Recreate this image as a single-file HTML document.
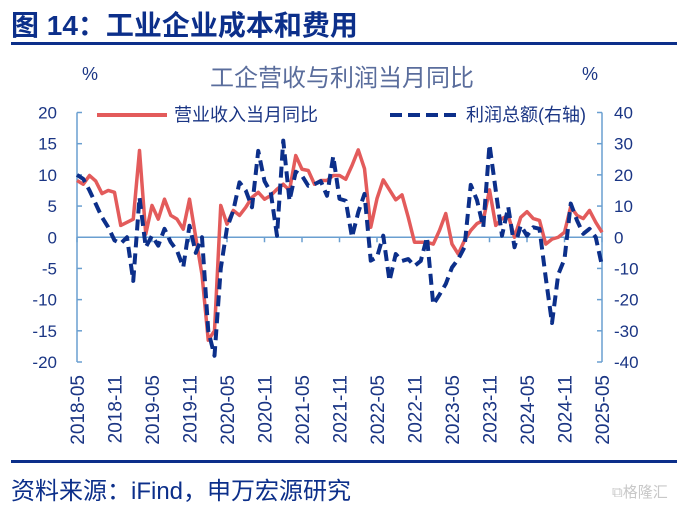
<!DOCTYPE html>
<html><head><meta charset="utf-8"><style>
body{margin:0;background:#fff;width:687px;height:511px;overflow:hidden;font-family:"Liberation Sans","Noto Sans CJK SC",sans-serif}
</style></head><body>
<svg id="c" width="687" height="511" xmlns="http://www.w3.org/2000/svg" style="font-family:'Liberation Sans','Noto Sans CJK SC',sans-serif">
<text x="11" y="35" font-size="28" font-weight="bold" fill="#0c2f8a">图 14：工业企业成本和费用</text>
<rect x="11" y="42" width="666" height="3" fill="#0c2f8a"/>
<text x="342" y="86" font-size="24" fill="#5a6d9c" text-anchor="middle">工企营收与利润当月同比</text>
<text x="90" y="80" font-size="18" fill="#1a3584" text-anchor="middle">%</text>
<text x="590" y="80" font-size="18" fill="#1a3584" text-anchor="middle">%</text>
<g id="axes"></g>
<g id="series"></g>
<line x1="97" y1="115" x2="167" y2="115" stroke="#e35b5b" stroke-width="4"/>
<text x="174" y="121" font-size="18" fill="#1a3584">营业收入当月同比</text>
<line x1="390" y1="115" x2="460" y2="115" stroke="#0c2f8a" stroke-width="4" stroke-dasharray="12,6"/>
<text x="466" y="121" font-size="18" fill="#1a3584">利润总额(右轴)</text>
<rect x="11" y="460" width="666" height="3" fill="#0c2f8a"/>
<text x="11" y="499" font-size="24" fill="#0c2f8a">资料来源：iFind，申万宏源研究</text>
<text x="612" y="497" font-size="15" fill="#c8c8c8">⧉格隆汇</text>
</svg>
<script>
const revenue=[9.1,8.5,9.9,9,7,7.5,7.2,1.9,2.4,2.9,13.9,0.5,5.1,2.9,6.1,3.5,2.9,1.3,6.1,0,-6,-16.5,-15,5.1,2.1,4.3,3.5,4.8,6.4,7.2,6.1,6.7,7.7,8.5,7.5,13.1,10.9,10.7,8.5,9.1,9.1,9.9,9.9,9.3,11.5,14,11,1.6,6.2,9.2,7.6,6,6.8,3.2,-0.8,-0.8,-0.8,-1.1,1.1,3.8,-1.1,-2.7,-0.5,1.1,2.2,2.7,7.6,1.9,3,3.5,0,3.2,4.1,3,2.7,-1.1,-0.3,0,0.8,4.9,3.5,3,4.3,2.4,0.8];
const profit=[20,18.7,15,10.7,6.4,3.2,-1,-2,0,-14,12.8,-3.2,0.5,-2.7,2.7,-1.6,-4.3,-9.6,3.7,-5,0,-30,-38,-10,3,8.5,17.6,15,9.6,27.7,18,14.4,0.5,31,11.7,21,19.7,16.5,17,18,13.3,26,12.3,11.7,0,8,13.9,-7.5,-6.4,0.5,-14,-5.4,-7.6,-7,-9.2,-7.6,0,-21.6,-18.4,-15,-9.7,-7,-3.2,16.8,11.9,3.2,29.7,15,0.5,9.7,-3.2,3.8,0.5,3.2,2.7,-13,-27.5,-11.9,-7,10.8,5.4,1.1,2.7,0,-9.2];
const leftTicks=[20,15,10,5,0,-5,-10,-15,-20];
const rightTicks=[40,30,20,10,0,-10,-20,-30,-40];
const xLabels=["2018-05","2018-11","2019-05","2019-11","2020-05","2020-11","2021-05","2021-11","2022-05","2022-11","2023-05","2023-11","2024-05","2024-11","2025-05"];
const NS="http://www.w3.org/2000/svg";
const X0=77,X1=602,YT=112.5,YB=362,N=revenue.length;
const x=i=>X0+i*(X1-X0)/(N-1);
const yl=v=>YB-(v+20)/40*(YB-YT);
const yr=v=>YB-(v+40)/80*(YB-YT);
function mk(tag,attrs,parent){const e=document.createElementNS(NS,tag);for(const k in attrs)e.setAttribute(k,attrs[k]);parent.appendChild(e);return e;}
const ax=document.getElementById('axes'),sg=document.getElementById('series');
const axc="#6a9fd0",tc="#1a3584";
let e;
e=mk('line',{x1:X0,y1:YT,x2:X0,y2:YB,stroke:axc,'stroke-width':1.5},ax);


e=mk('line',{x1:X1,y1:YT,x2:X1,y2:YB,stroke:axc,'stroke-width':1.5},ax);


e=mk('line',{x1:X0,y1:yl(0),x2:X1,y2:yl(0),stroke:axc,'stroke-width':1.5},ax);


leftTicks.forEach(v=>{
 mk('line',{x1:X0,y1:yl(v),x2:X0+5,y2:yl(v),stroke:axc,'stroke-width':1.5},ax);
 const t=mk('text',{x:57,y:yl(v)+6,'font-size':17,fill:tc,'text-anchor':'end'},ax);t.textContent=v;
 
 
});
rightTicks.forEach(v=>{
 mk('line',{x1:X1,y1:yr(v),x2:X1-5,y2:yr(v),stroke:axc,'stroke-width':1.5},ax);
 const t=mk('text',{x:614,y:yr(v)+6,'font-size':17,fill:tc},ax);t.textContent=v;
 
 
});
xLabels.forEach((l,k)=>{
 const xx=x(k*6);
 mk('line',{x1:xx,y1:yl(0),x2:xx,y2:yl(0)+5,stroke:axc,'stroke-width':1.5},ax);
 const t=mk('text',{x:0,y:0,'font-size':19,fill:tc,'text-anchor':'end',transform:`translate(${xx+7},375) rotate(-90)`},ax);t.textContent=l;
 
 
});
let p=mk('polyline',{points:revenue.map((v,i)=>x(i)+','+yl(v)).join(' '),fill:'none',stroke:'#e35b5b','stroke-width':3.5,'stroke-linejoin':'round'},sg);


p=mk('polyline',{points:profit.map((v,i)=>x(i)+','+yr(v)).join(' '),fill:'none',stroke:'#0c2f8a','stroke-width':4,'stroke-dasharray':'11,6','stroke-linejoin':'round'},sg);


</script>
</body></html>
